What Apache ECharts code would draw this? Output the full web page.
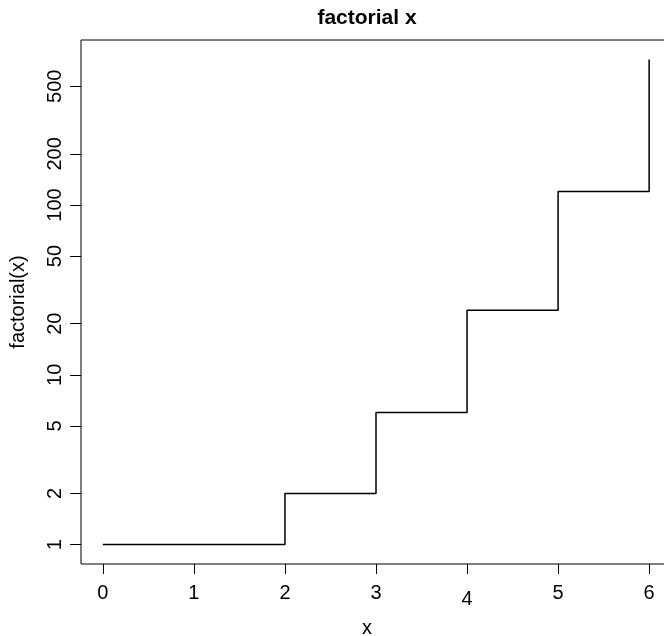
<!DOCTYPE html>
<html>
<head>
<meta charset="utf-8">
<script src="https://cdn.jsdelivr.net/npm/echarts@6/dist/echarts.min.js"></script>
<style>
html,body{margin:0;padding:0;background:#fff;overflow:hidden;width:664px;height:636px;}
#chart{width:680px;height:636px;}
</style>
</head>
<body>
<div id="chart"></div>
<script>
// ---- data ----
var titleText = 'factorial x';
var xName = 'x';
var yName = 'factorial(x)';
var xs = [0, 1, 2, 3, 4, 5, 6];
var ys = [1, 1, 2, 6, 24, 120, 720];
var xTicks = [0, 1, 2, 3, 4, 5, 6];
var yTicks = [1, 2, 5, 10, 20, 50, 100, 200, 500];

// ---- axis ranges (R style 4% extension) ----
var xLo = Math.min.apply(null, xs), xHi = Math.max.apply(null, xs);
var xPad = (xHi - xLo) * 0.04;
var lyLo = Math.log10(Math.min.apply(null, ys)), lyHi = Math.log10(Math.max.apply(null, ys));
var lyPad = (lyHi - lyLo) * 0.04;
var yMinL = lyLo - lyPad, yMaxL = lyHi + lyPad;

var FONT = '"Liberation Sans", Arial, Helvetica, sans-serif';
var seriesData = xs.map(function (x, i) { return [x, ys[i]]; });

var chart = echarts.init(document.getElementById('chart'), null, { renderer: 'canvas' });
chart.setOption({
  animation: false,
  backgroundColor: '#ffffff',
  title: [
    { text: titleText, left: 362, top: 3, textAlign: 'center',
      textStyle: { fontFamily: FONT, fontSize: 21, fontWeight: 'bold', color: '#000' } },
    { text: xName, left: 362, top: 613, textAlign: 'center',
      textStyle: { fontFamily: FONT, fontSize: 20, fontWeight: 'normal', color: '#000' } }
  ],
  grid: {
    left: 80, top: 40, width: 591, height: 524,
    show: true, borderColor: '#000', borderWidth: 1, backgroundColor: 'transparent',
    containLabel: false
  },
  xAxis: {
    type: 'value', min: xLo - xPad, max: xHi + xPad, position: 'bottom',
    axisLine: { show: false, onZero: false },
    splitLine: { show: false },
    axisTick: { show: true, inside: false, length: 10, customValues: xTicks,
      lineStyle: { color: '#000', width: 1 } },
    axisLabel: { show: true, customValues: xTicks, margin: 19,
      fontFamily: FONT, fontSize: 20, color: '#000', lineHeight: 20,
      formatter: function (v) { return v === 4 ? '{low|4}' : String(v); },
      rich: { low: { fontFamily: FONT, fontSize: 20, color: '#000', lineHeight: 32 } } }
  },
  yAxis: [
    { type: 'log', logBase: 10, min: Math.pow(10, yMinL), max: Math.pow(10, yMaxL),
      axisLine: { show: false, onZero: false }, axisTick: { show: false }, axisLabel: { show: false },
      splitLine: { show: false }, minorTick: { show: false },
      name: yName, nameLocation: 'middle', nameGap: 53, nameRotate: 90,
      nameTextStyle: { fontFamily: FONT, fontSize: 20, color: '#000' } },
    { type: 'value', min: yMinL, max: yMaxL, position: 'left',
      axisLine: { show: false, onZero: false }, splitLine: { show: false },
      axisTick: { show: true, inside: false, length: 11,
        customValues: yTicks.map(function (t) { return Math.log10(t); }),
        lineStyle: { color: '#000', width: 1 } },
      axisLabel: { show: true, rotate: 90, margin: 16,
        customValues: yTicks.map(function (t) { return Math.log10(t); }),
        fontFamily: FONT, fontSize: 20, color: '#000',
        formatter: function (v) { return String(Math.round(Math.pow(10, v))); } } }
  ],
  series: [{
    type: 'line', step: 'end', yAxisIndex: 0,
    data: seriesData, showSymbol: false, symbol: 'none',
    lineStyle: { color: '#000', width: 1.5 },
    clip: false
  }]
});
</script>
</body>
</html>
